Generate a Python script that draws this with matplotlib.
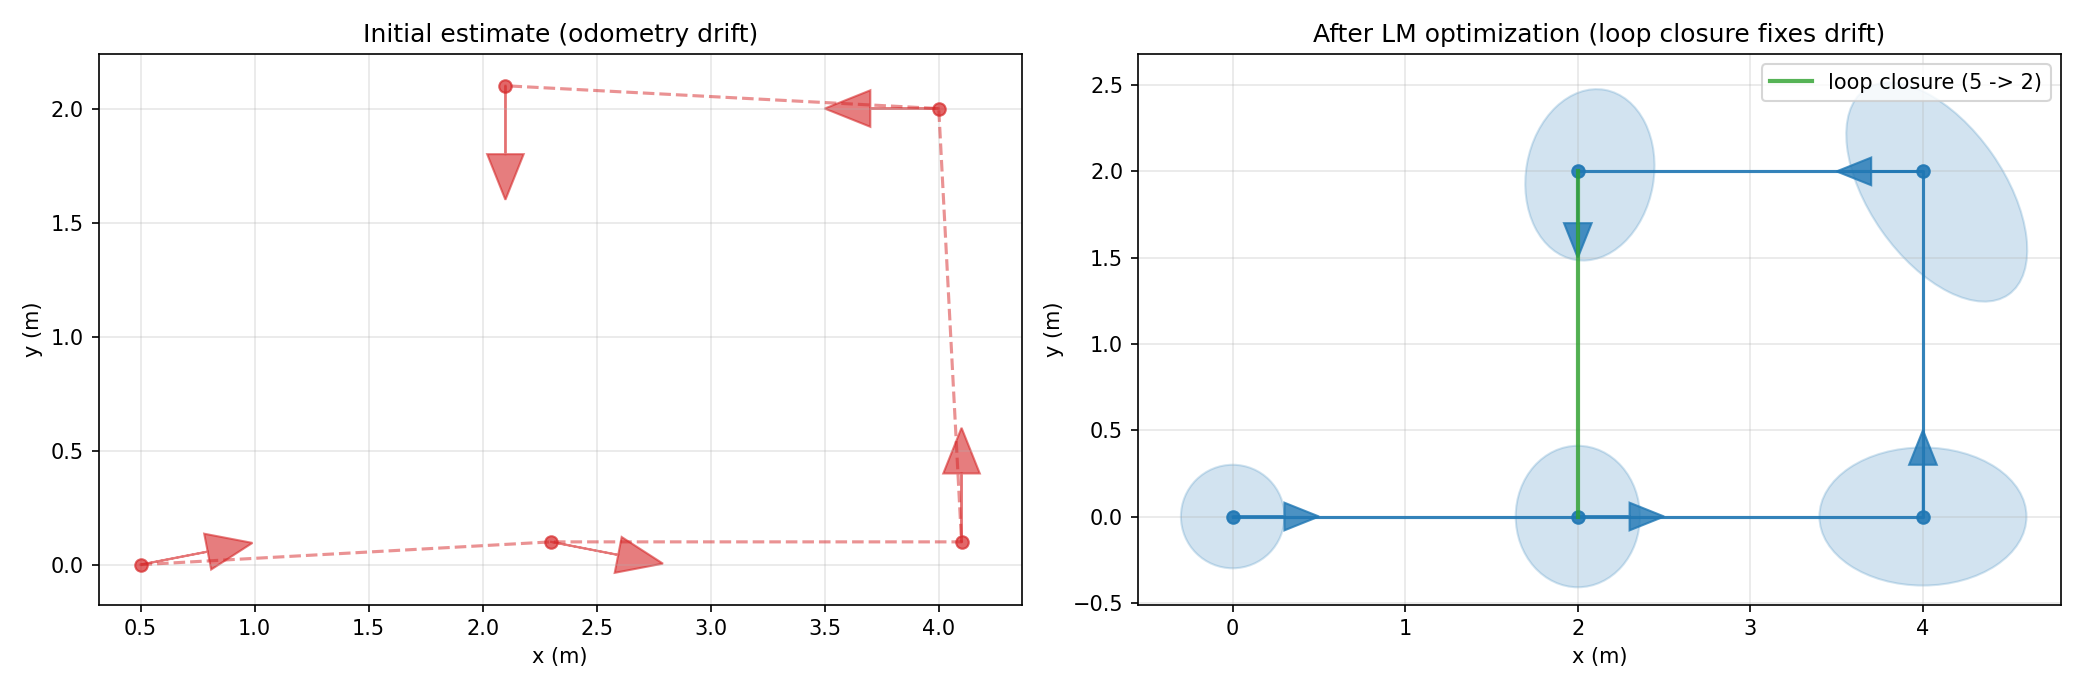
import numpy as np
import matplotlib.pyplot as plt
from matplotlib.patches import Ellipse

# initial (drifted) poses: x, y, heading (deg)
init_x = [0.5, 2.3, 4.1, 4.0, 2.1]
init_y = [0.0, 0.1, 0.1, 2.0, 2.1]
init_th = [11, -11, 90, 180, -90]

# optimized poses
opt_x = [0, 2, 4, 4, 2]
opt_y = [0, 0, 0, 2, 2]
opt_th = [0, 0, 90, 180, -90]

# covariance ellipses: width, height, angle
ell_w = [0.6, 0.72, 1.2, 1.45, 1.0]
ell_h = [0.6, 0.82, 0.8, 0.78, 0.74]
ell_a = [0, 0, 0, -55, 80]
ell_dx = [0, 0, 0, 0.08, 0.07]
ell_dy = [0, 0, 0, -0.12, -0.02]

loop_from, loop_to = 4, 1

fig, (ax1, ax2) = plt.subplots(1, 2, figsize=(13.89, 4.6), dpi=150)

ax1.plot(init_x, init_y, '--', color='tab:red', alpha=0.5)
ax1.plot(init_x, init_y, 'o', color='tab:red', alpha=0.7)
for x, y, t in zip(init_x, init_y, init_th):
    r = np.deg2rad(t)
    ax1.arrow(x, y, 0.5 * np.cos(r), 0.5 * np.sin(r), head_width=0.16, head_length=0.2,
              length_includes_head=True, color='tab:red', alpha=0.6)
ax1.set_aspect('equal', adjustable='datalim')
ax1.set_title('Initial estimate (odometry drift)')
ax1.set_xlabel('x (m)')
ax1.set_ylabel('y (m)')
ax1.grid(alpha=0.3)

for i in range(5):
    ax2.add_patch(Ellipse((opt_x[i] + ell_dx[i], opt_y[i] + ell_dy[i]), ell_w[i], ell_h[i],
                          angle=ell_a[i], facecolor='tab:blue', edgecolor='tab:blue', alpha=0.2))
ax2.plot(opt_x, opt_y, '-o', color='tab:blue', alpha=0.9)
ax2.plot([opt_x[loop_from], opt_x[loop_to]], [opt_y[loop_from], opt_y[loop_to]],
         color='tab:green', lw=2, alpha=0.8, label='loop closure (5 -> 2)')
for x, y, t in zip(opt_x, opt_y, opt_th):
    r = np.deg2rad(t)
    ax2.arrow(x, y, 0.5 * np.cos(r), 0.5 * np.sin(r), head_width=0.16, head_length=0.2,
              length_includes_head=True, color='tab:blue', alpha=0.8)
ax2.set_xlim(-0.55, 4.8)
ax2.set_ylim(-0.55, 2.72)
ax2.set_aspect('equal', adjustable='datalim')
ax2.set_title('After LM optimization (loop closure fixes drift)')
ax2.set_xlabel('x (m)')
ax2.set_ylabel('y (m)')
ax2.grid(alpha=0.3)
ax2.legend(loc='upper right')

plt.tight_layout()
plt.savefig('out.png')
